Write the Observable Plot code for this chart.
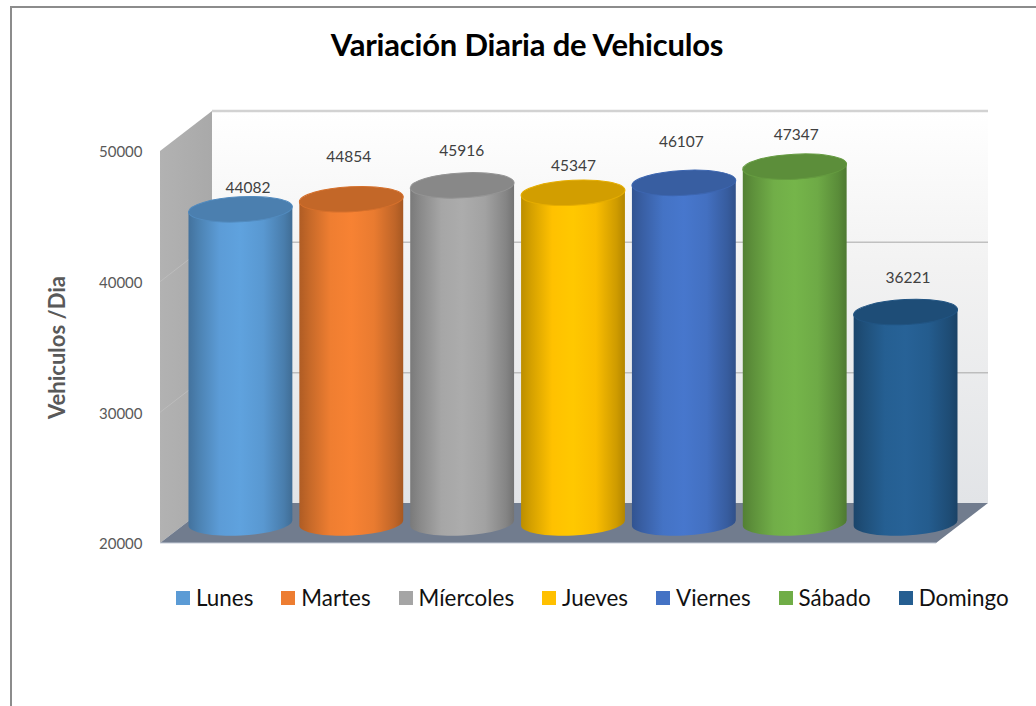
<!DOCTYPE html>
<html lang="es">
<head>
<meta charset="utf-8">
<script src="https://cdn.jsdelivr.net/npm/d3@7"></script>
<script src="https://cdn.jsdelivr.net/npm/@observablehq/plot@0.6"></script>
<style>
  html, body { margin: 0; padding: 0; background: #fff; width: 1036px; height: 706px; overflow: hidden; }
  #frame { position: absolute; left: 10px; top: 6px; right: 0; bottom: 0; border-left: 2.5px solid #8c8c8c; border-top: 2.5px solid #8c8c8c; }
  #title { position: absolute; left: 327px; top: 24px; width: 400px; text-align: center; white-space: nowrap; font: bold 31px Lato, "Open Sans", sans-serif; line-height: 40px; color: #000; letter-spacing: -0.2px; }
  #chart { position: absolute; left: 0; top: 90px; }
  #chart svg { display: block; }
  #legend { position: absolute; left: 176px; top: 582px; display: flex; font: 22.4px Lato, "Open Sans", sans-serif; line-height: 32px; color: #111; white-space: nowrap; }
  .entry { display: flex; align-items: center; margin-right: 28px; }
  .swatch { width: 14px; height: 14px; margin-right: 6px; }
</style>
</head>
<body>
<div id="frame"></div>
<div id="title"></div>
<div id="chart"></div>
<div id="legend"></div>
<script>
const chartTitle = "Variación Diaria de Vehiculos";
const yTitle = "Vehiculos /Dia";
const days = ["Lunes", "Martes", "Míercoles", "Jueves", "Viernes", "Sábado", "Domingo"];
const vehicles = [44082, 44854, 45916, 45347, 46107, 47347, 36221];
const colors = ["#5b9bd5", "#ed7d31", "#a5a5a5", "#ffc000", "#4472c4", "#70ad47", "#255e91"];
const yTicks = [20000, 30000, 40000, 50000];

const rows = days.map((day, i) => ({day, value: vehicles[i], color: colors[i]}));

// Layout of the pseudo-3D box
const depthX = 52, depthY = 40;
const rx = 52, ry = 12.5, tilt = 3;
// Hand-placed data labels (offset from each band centre / value position)
const labelDx = [7, -3, -1, 0, -3, 1, 2];
const labelDy = [-41, -62, -54, -46, -60, -51, -54];

function box(index, {y}, values, {width, marginLeft, marginRight}) {
  const NS = "http://www.w3.org/2000/svg";
  const g = d3.select(document.createElementNS(NS, "g"));
  const x0 = marginLeft, x1 = width - marginRight - depthX;
  const bot = y(20000), top = y(50000);
  const defs = g.append("defs");
  const back = defs.append("linearGradient").attr("id", "wallBack").attr("x1", 0).attr("x2", 0).attr("y1", 0).attr("y2", 1);
  back.append("stop").attr("offset", 0).attr("stop-color", "#ffffff");
  back.append("stop").attr("offset", 0.4).attr("stop-color", "#f2f2f2");
  back.append("stop").attr("offset", 1).attr("stop-color", "#e2e4e7");
  const side = defs.append("linearGradient").attr("id", "wallSide").attr("x1", 0).attr("x2", 1).attr("y1", 0).attr("y2", 0);
  side.append("stop").attr("offset", 0).attr("stop-color", "#b2b2b2");
  side.append("stop").attr("offset", 1).attr("stop-color", "#a9a9a9");
  // back wall
  g.append("rect").attr("x", x0 + depthX).attr("y", top - depthY).attr("width", x1 - x0).attr("height", bot - top)
    .attr("fill", "url(#wallBack)");
  // top edge of back wall
  g.append("line").attr("x1", x0 + depthX).attr("x2", x1 + depthX).attr("y1", top - depthY).attr("y2", top - depthY)
    .attr("stroke", "#d2d2d2").attr("stroke-width", 2.5);
  // left wall
  g.append("path").attr("d", `M${x0},${top}L${x0 + depthX},${top - depthY}V${bot - depthY}L${x0},${bot}Z`)
    .attr("fill", "url(#wallSide)");
  // left wall grid
  for (const t of yTicks.slice(1, -1)) {
    g.append("line").attr("x1", x0).attr("x2", x0 + depthX).attr("y1", y(t)).attr("y2", y(t) - depthY)
      .attr("stroke", "#bcbcbc").attr("stroke-width", 1);
  }
  // floor
  g.append("path").attr("d", `M${x0},${bot}L${x0 + depthX},${bot - depthY}H${x1 + depthX}L${x1},${bot}Z`)
    .attr("fill", "#717c8e");
  g.append("line").attr("x1", x0).attr("x2", x1).attr("y1", bot).attr("y2", bot).attr("stroke", "#c6ccd8").attr("stroke-width", 1);
  return g.node();
}

function cylinders(index, {x, y}) {
  const NS = "http://www.w3.org/2000/svg";
  const g = d3.select(document.createElementNS(NS, "g"));
  const defs = g.append("defs");
  const rad = tilt * Math.PI / 180;
  const ex = rx * Math.cos(rad), ey = rx * Math.sin(rad);
  const mid = depthY / 2;
  rows.forEach((d, i) => {
    const c = d3.color(d.color);
    const grad = defs.append("linearGradient").attr("id", `cyl${i}`).attr("x1", 0).attr("x2", 1).attr("y1", 0).attr("y2", 0);
    [[0, c.darker(0.85)], [0.1, c.darker(0.5)], [0.3, c.brighter(0.02)], [0.5, c.brighter(0.12)], [0.72, c.darker(0.05)], [0.92, c.darker(0.6)], [1, c.darker(1)]]
      .forEach(([o, col]) => grad.append("stop").attr("offset", o).attr("stop-color", col.formatHex()));
    const cx = x(d.day) + x.bandwidth() / 2;
    const topY = y(d.value) - mid + 1, botY = y(20000) - mid;
    g.append("path")
      .attr("d", `M${cx - ex},${topY + ey}L${cx - ex},${botY + ey}A${rx},${ry} ${-tilt} 0 0 ${cx + ex},${botY - ey}L${cx + ex},${topY - ey}Z`)
      .attr("fill", `url(#cyl${i})`);
    g.append("ellipse").attr("cx", cx).attr("cy", topY).attr("rx", rx).attr("ry", ry)
      .attr("transform", `rotate(${-tilt} ${cx} ${topY})`)
      .attr("fill", c.darker(0.55).formatHex())
      .attr("stroke", c.darker(0.3).formatHex()).attr("stroke-width", 1);
  });
  return g.node();
}

document.getElementById("title").textContent = chartTitle;

const plot = Plot.plot({
  width: 1036,
  height: 480,
  marginLeft: 160,
  marginRight: 48,
  marginTop: 61,
  marginBottom: 27,
  style: {background: "transparent", fontFamily: "Lato, 'Open Sans', sans-serif"},
  x: {domain: days, range: [185, 961], paddingInner: 0.06, paddingOuter: 0.03, round: false, axis: null},
  y: {domain: [20000, 50000], label: null},
  marks: [
    box,
    Plot.ruleY(yTicks.slice(1, -1), {dy: -depthY, insetLeft: depthX, stroke: "#a6a6a6", strokeWidth: 1}),
    Plot.axisY({
      ticks: yTicks, tickSize: 0, tickPadding: 18, tickFormat: d3.format("d"),
      fontSize: 15, fill: "#595959", label: null, dy: 1
    }),
    Plot.text([yTitle], {
      frameAnchor: "left", textAnchor: "middle", dx: -103, rotate: -90, fontSize: 22, fontWeight: "bold", fill: "#595959"
    }),
    cylinders,
    ...rows.map((d, i) => Plot.text([d], {
      x: "day", y: "value", text: r => String(r.value),
      dx: labelDx[i], dy: labelDy[i], fontSize: 15.5, fill: "#404040"
    }))
  ]
});
document.getElementById("chart").appendChild(plot);

const legend = d3.select("#legend");
rows.forEach(d => {
  const e = legend.append("div").attr("class", "entry");
  e.append("div").attr("class", "swatch").style("background", d.color);
  e.append("span").text(d.day);
});
</script>
</body>
</html>
